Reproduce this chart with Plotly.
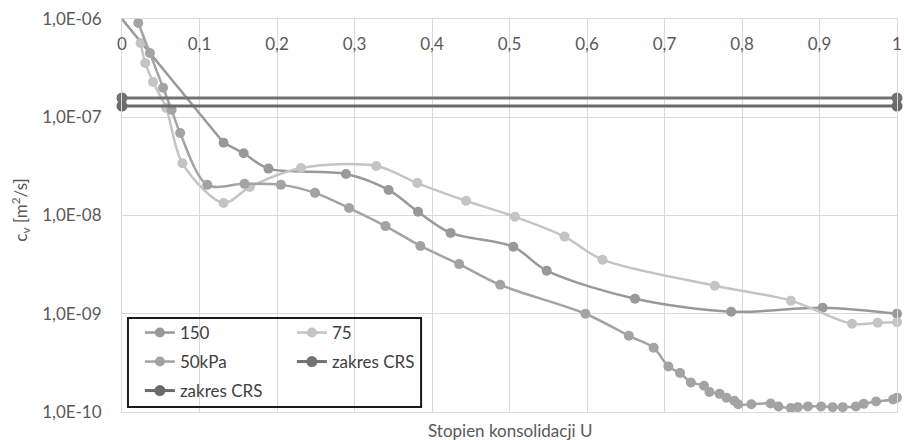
import plotly.graph_objects as go

# ---- data ----
u_150 = [0.0, 0.131, 0.157, 0.189, 0.289, 0.344, 0.382, 0.424, 0.505, 0.548, 0.662, 0.786, 0.904, 1.0]
cv_150 = [1.0e-6, 5.5e-8, 4.3e-8, 3.0e-8, 2.65e-8, 1.82e-8, 1.09e-8, 6.65e-9, 4.8e-9, 2.74e-9, 1.42e-9, 1.05e-9, 1.15e-9, 1.0e-9]

u_75 = [0.024, 0.030, 0.040, 0.057, 0.078, 0.131, 0.165, 0.231, 0.328, 0.381, 0.444, 0.507, 0.571, 0.620, 0.765, 0.863, 0.942, 0.975, 1.0]
cv_75 = [5.7e-7, 3.57e-7, 2.28e-7, 1.24e-7, 3.4e-8, 1.34e-8, 1.95e-8, 3.04e-8, 3.19e-8, 2.14e-8, 1.41e-8, 9.7e-9, 6.1e-9, 3.55e-9, 1.93e-9, 1.36e-9, 7.9e-10, 8.1e-10, 8.2e-10]

u_50 = [0.021, 0.036, 0.053, 0.064, 0.075, 0.110, 0.158, 0.205, 0.249, 0.293, 0.340, 0.385,
        0.435, 0.488, 0.598, 0.654, 0.686, 0.705, 0.720, 0.734, 0.751, 0.758, 0.771, 0.780,
        0.790, 0.795, 0.812, 0.837, 0.847, 0.863, 0.872, 0.885, 0.902, 0.917, 0.930, 0.947,
        0.957, 0.973, 0.995, 1.0]
cv_50 = [9.1e-7, 4.5e-7, 2.0e-7, 1.19e-7, 6.9e-8, 2.05e-8, 2.1e-8, 2.05e-8, 1.7e-8, 1.19e-8, 7.8e-9, 4.9e-9,
         3.2e-9, 1.97e-9, 1.0e-9, 5.97e-10, 4.5e-10, 2.9e-10, 2.5e-10, 2.0e-10, 1.85e-10, 1.6e-10, 1.53e-10, 1.4e-10,
         1.3e-10, 1.2e-10, 1.2e-10, 1.22e-10, 1.14e-10, 1.1e-10, 1.12e-10, 1.14e-10, 1.14e-10, 1.12e-10, 1.12e-10, 1.14e-10,
         1.21e-10, 1.28e-10, 1.34e-10, 1.4e-10]

u_crs = [0.0, 1.0]
cv_crs1 = [1.57e-7, 1.57e-7]
cv_crs2 = [1.3e-7, 1.3e-7]

x_ticks = [0, 0.1, 0.2, 0.3, 0.4, 0.5, 0.6, 0.7, 0.8, 0.9, 1.0]
x_labels = ["0", "0,1", "0,2", "0,3", "0,4", "0,5", "0,6", "0,7", "0,8", "0,9", "1"]
y_ticks = [1e-10, 1e-9, 1e-8, 1e-7, 1e-6]
y_labels = ["1,0E-10", "1,0E-09", "1,0E-08", "1,0E-07", "1,0E-06"]

FONT = "Lato"
fig = go.Figure()

def add(name, x, y, color, legend, size=10, width=2.5, shape="spline"):
    fig.add_trace(go.Scatter(
        x=x, y=y, name=name, mode="lines+markers",
        line=dict(color=color, width=width, shape=shape, smoothing=0.9),
        marker=dict(color=color, size=size),
        cliponaxis=False, legend=legend))

# 150: first point (the axis corner) carries no marker and joins the next point straight
fig.add_trace(go.Scatter(x=u_150[:2], y=cv_150[:2], mode="lines", showlegend=False,
                         line=dict(color="#999999", width=2.5), hoverinfo="skip"))
add("150", u_150[1:], cv_150[1:], "#999999", "legend")
add("75", u_75, cv_75, "#c4c4c4", "legend2")
add("50kPa", u_50, cv_50, "#a3a3a3", "legend3")
add("zakres CRS", u_crs, cv_crs1, "#727272", "legend4", size=11, width=3, shape="linear")
add("zakres CRS", u_crs, cv_crs2, "#6a6a6a", "legend5", size=11, width=3, shape="linear")

L, T, PW, PH = 122, 19, 780, 393
def px(xp):
    return (xp - L) / PW
def py(yp):
    return (T + PH - yp) / PH

leg_common = dict(xanchor="left", yanchor="middle", bgcolor="rgba(0,0,0,0)",
                  font=dict(family=FONT, size=17, color="#404040"), borderwidth=0)
col1, col2 = px(140), px(293)
r1, r2, r3 = py(333), py(362), py(391)

fig.update_layout(
    width=904, height=440,
    margin=dict(l=L, r=904 - L - PW, t=T, b=440 - T - PH, pad=0),
    paper_bgcolor="white", plot_bgcolor="white",
    font=dict(family=FONT, size=17, color="#595959"),
    legend=dict(x=col1, y=r1, **leg_common),
    legend2=dict(x=col2, y=r1, **leg_common),
    legend3=dict(x=col1, y=r2, **leg_common),
    legend4=dict(x=col2, y=r2, **leg_common),
    legend5=dict(x=col1, y=r3, **leg_common),
    xaxis=dict(range=[0, 1], tickvals=x_ticks, ticktext=x_labels, side="top",
               ticklabelposition="inside", ticklabeloverflow="allow", ticklabelstandoff=20,
               showgrid=True, gridcolor="#d9d9d9", gridwidth=1, zeroline=False,
               showline=True, mirror=True, linecolor="#d9d9d9", ticks="",
               tickfont=dict(family=FONT, size=17, color="#595959")),
    yaxis=dict(type="log", range=[-10, -6], tickvals=y_ticks, ticktext=y_labels,
               showgrid=True, gridcolor="#d9d9d9", gridwidth=1, zeroline=False,
               showline=True, mirror=True, linecolor="#d9d9d9", ticks="",
               ticklabelstandoff=16,
               tickfont=dict(family=FONT, size=17, color="#595959")),
    shapes=[dict(type="rect", xref="paper", yref="paper",
                 x0=px(128), x1=px(423), y0=py(407), y1=py(318),
                 line=dict(color="#1a1a1a", width=2), fillcolor="rgba(0,0,0,0)")],
    annotations=[
        dict(text="Stopien konsolidacji U", xref="paper", yref="paper",
             x=px(512), y=py(430), xanchor="center", yanchor="middle", showarrow=False,
             font=dict(family=FONT, size=17, color="#595959")),
        dict(text="c<sub>v</sub> [m<sup>2</sup>/s]", xref="paper", yref="paper",
             x=px(20), y=py(210), xanchor="center", yanchor="middle", showarrow=False,
             textangle=-90, font=dict(family=FONT, size=17, color="#595959")),
    ],
)

fig.write_html("out.html")
